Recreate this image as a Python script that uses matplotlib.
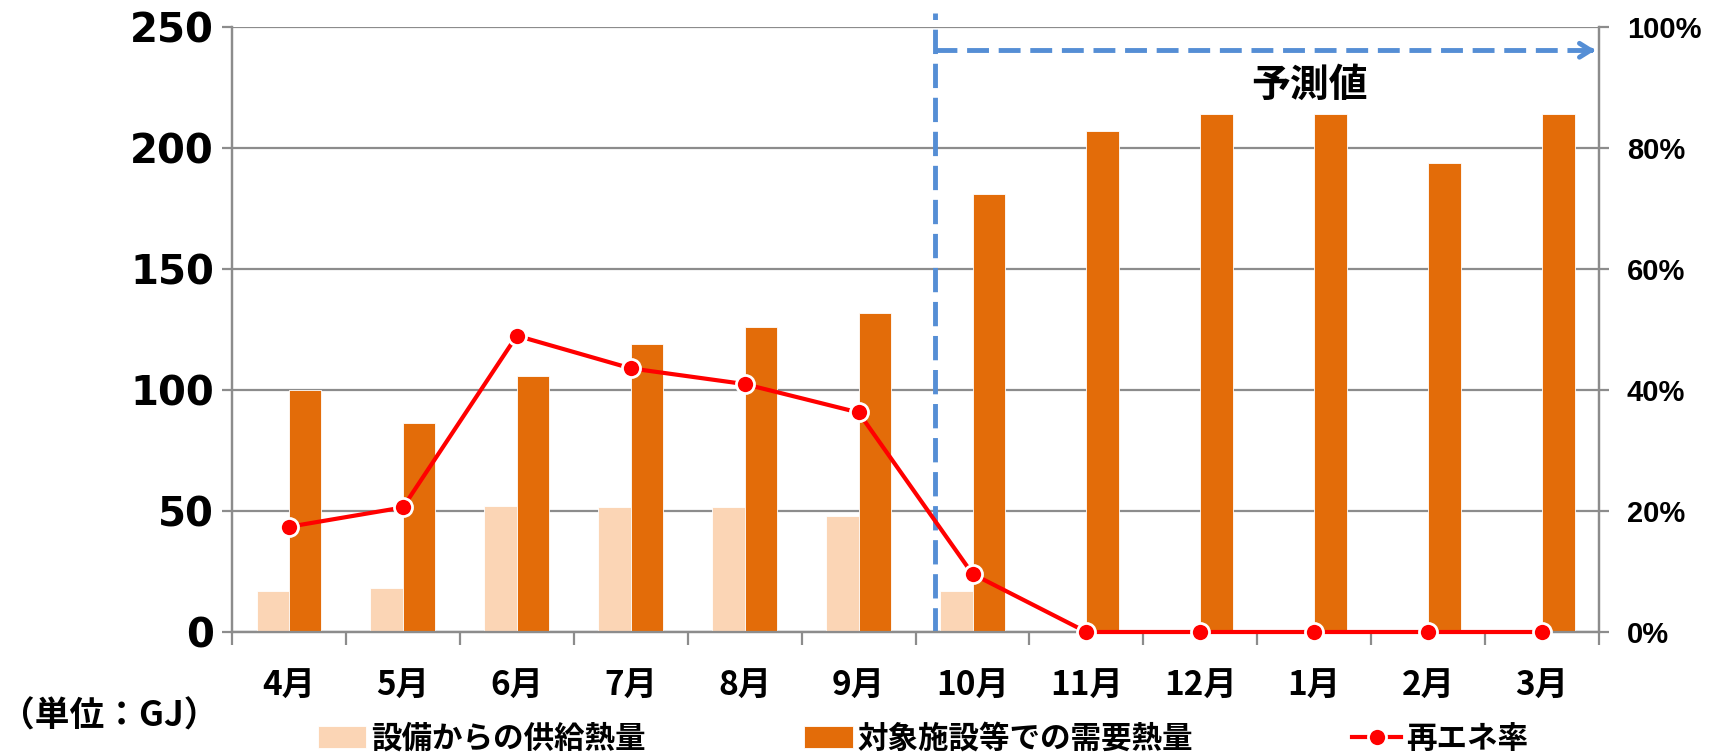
import numpy as np
import matplotlib
matplotlib.use("Agg")
import matplotlib.pyplot as plt
from matplotlib.ticker import FuncFormatter, FixedLocator

plt.rcParams['font.family'] = ['Noto Sans CJK JP', 'DejaVu Sans']

# monthly heat data (GJ)
months = ['4月', '5月', '6月', '7月', '8月', '9月', '10月', '11月', '12月', '1月', '2月', '3月']
supply = [17, 18, 52, 51.5, 51.5, 48, 17, 0, 0, 0, 0, 0]
demand = [100, 86.5, 106, 119, 126, 132, 181, 207, 214, 214, 194, 214]
renew_rate = [0.174, 0.206, 0.49, 0.436, 0.41, 0.363, 0.096, 0, 0, 0, 0, 0]

forecast_start = 5.67   # boundary between actual and forecast months
forecast_arrow_y = 240.5

C_LIGHT = '#FBD5B5'
C_DARK = '#E36C09'
C_RED = '#FF0000'
C_BLUE = '#558ED5'
C_GRID = '#8C8C8C'

fig = plt.figure(figsize=(17.15, 7.54), dpi=100)
ax = fig.add_axes([0.1353, 0.1618, 0.7971, 0.802])
ax2 = ax.twinx()

x = np.arange(len(months))
w = 0.285
ax.bar(x - w / 2, supply, w, color=C_LIGHT, edgecolor='white', linewidth=0.6,
       label='設備からの供給熱量', zorder=3)
ax.bar(x + w / 2, demand, w, color=C_DARK, edgecolor='white', linewidth=0.6,
       label='対象施設等での需要熱量', zorder=3)

ax.set_xlim(-0.5, len(months) - 0.5)
ax.set_ylim(0, 250)
ax.set_yticks(np.arange(0, 251, 50))
ax.grid(axis='y', color=C_GRID, linewidth=1.6, zorder=0)
ax.set_axisbelow(True)

ax.set_xticks(x)
ax.set_xticklabels(months, fontsize=24, fontweight='bold')
ax.xaxis.set_minor_locator(FixedLocator(np.arange(-0.5, len(months), 1.0)))
ax.tick_params(axis='x', which='major', length=0, pad=27)
ax.tick_params(axis='x', which='minor', length=9, width=1.6, color=C_GRID, direction='out')
ax.tick_params(axis='y', length=7, width=1.6, color=C_GRID, direction='out', pad=6)
for lbl in ax.get_yticklabels():
    lbl.set_fontfamily('DejaVu Sans')
    lbl.set_fontweight('bold')
    lbl.set_fontsize(29)

# renewable ratio on the right axis
ax2.set_ylim(0, 1)
ax2.set_yticks(np.arange(0, 1.01, 0.2))
ax2.yaxis.set_major_formatter(FuncFormatter(lambda v, p: f'{v * 100:.0f}%'))
ax2.tick_params(axis='y', length=7, width=1.6, color=C_GRID, direction='out', pad=13)
for lbl in ax2.get_yticklabels():
    lbl.set_fontfamily(['Liberation Sans', 'DejaVu Sans'])
    lbl.set_fontweight('bold')
    lbl.set_fontsize(21)
ax2.plot(x, renew_rate, color=C_RED, linewidth=3, marker='o', markersize=13,
         markerfacecolor=C_RED, markeredgecolor='white', markeredgewidth=2,
         label='再エネ率', zorder=5, clip_on=False)

for a in (ax, ax2):
    for side in ('left', 'right', 'bottom'):
        a.spines[side].set_color(C_GRID)
        a.spines[side].set_linewidth(1.6)
    a.spines['top'].set_visible(False)

# forecast marker: vertical dashed line and arrow
ax.plot([forecast_start, forecast_start], [0, 256], color=C_BLUE, linewidth=3.5,
        linestyle=(0, (5, 2)), clip_on=False, zorder=4)
ax.plot([forecast_start, len(months) - 0.53], [forecast_arrow_y, forecast_arrow_y],
        color=C_BLUE, linewidth=3.5, linestyle=(0, (4.5, 2)), zorder=4,
        solid_capstyle='butt')
ax.annotate('', xy=(len(months) - 0.51, forecast_arrow_y),
            xytext=(len(months) - 0.6, forecast_arrow_y),
            arrowprops=dict(arrowstyle='->,head_length=0.8,head_width=0.5',
                            color=C_BLUE, linewidth=3.5), zorder=4)
ax.text(8.96, 226, '予測値', fontsize=28, fontweight='bold', ha='center', va='center')

fig.text(0.0, 0.05, '（単位：GJ）', fontsize=25, fontweight='bold', ha='left', va='center')

h1, l1 = ax.get_legend_handles_labels()
h2, l2 = ax2.get_legend_handles_labels()
leg = fig.legend(h1 + h2, l1 + l2, loc='center', bbox_to_anchor=(0.538, 0.02), ncol=3,
                 frameon=False, prop={'size': 22, 'weight': 'bold'},
                 handlelength=1.6, handleheight=0.72, handletextpad=0.15,
                 columnspacing=5.2, borderaxespad=0)

fig.savefig('out.png', dpi=100)
